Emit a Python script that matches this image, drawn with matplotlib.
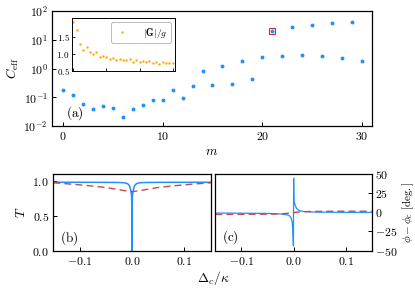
import numpy as np
import matplotlib
matplotlib.use("Agg")
import matplotlib.pyplot as plt
from matplotlib.ticker import FuncFormatter, FixedLocator

plt.rcParams['mathtext.fontset'] = 'cm'
plt.rcParams['font.family'] = ['DejaVu Serif']

# ---------------- data ----------------
m_vals = list(range(31))
c_eff = [0.18, 0.12, 0.06, 0.04, 0.05, 0.042, 0.021, 0.039, 0.054, 0.078,
         0.078, 0.18, 0.097, 0.24, 0.82, 0.26, 1.22, 0.30, 1.86, 0.42,
         2.45, 20.7, 2.8, 28.5, 2.85, 34.0, 2.7, 39.0, 2.3, 41.0, 1.86]
highlight_m = [21]
highlight_c = [20.7]

g_ratio = [1.94, 1.71, 1.29, 1.12, 1.21, 1.05, 0.99, 1.04, 0.91, 0.95,
           0.91, 0.85, 0.89, 0.81, 0.86, 0.83, 0.81, 0.84, 0.76, 0.81,
           0.76, 0.78, 0.76, 0.78, 0.73, 0.77, 0.71, 0.76, 0.73, 0.74, 0.74]

# panel (b): transmission
det_b_blue = [-0.15, -0.1, -0.05, -0.025, -0.015, -0.01, -0.007, -0.005, -0.004,
              -0.003, -0.0022, -0.0015, -0.0008, -0.0003, 0.0, 0.0003, 0.0008,
              0.0015, 0.0022, 0.003, 0.004, 0.005, 0.007, 0.01, 0.015, 0.025,
              0.05, 0.1, 0.15]
T_blue = [0.985, 0.985, 0.984, 0.982, 0.978, 0.97, 0.955, 0.935, 0.915,
          0.89, 0.86, 0.83, 0.79, 0.6, 0.0, 0.6, 0.79,
          0.83, 0.86, 0.89, 0.915, 0.935, 0.955, 0.97, 0.978, 0.982,
          0.984, 0.985, 0.985]
det_b_red = [-0.15, -0.11, -0.074, -0.05, -0.023, -0.01, 0.0,
             0.01, 0.023, 0.05, 0.074, 0.11, 0.15]
T_red = [0.978, 0.955, 0.93, 0.91, 0.875, 0.86, 0.848,
         0.86, 0.875, 0.91, 0.93, 0.955, 0.978]

# panel (c): phase
det_c_blue = [-0.15, -0.1, -0.05, -0.025, -0.015, -0.01, -0.007, -0.005, -0.0035,
              -0.0025, -0.0015, -0.0008, -0.0002, 0.0002, 0.0006, 0.001, 0.0016,
              0.0025, 0.004, 0.006, 0.009, 0.013, 0.02, 0.035, 0.06, 0.1, 0.15]
phi_blue = [-0.8, -1.0, -1.3, -2.0, -2.8, -3.6, -5.0, -7.0, -10.0,
            -14.0, -22.0, -33.0, -44.0, 45.0, 20.0, 14.0, 13.0,
            11.0, 8.0, 5.0, 3.2, 2.0, 1.2, 0.6, 0.3, 0.1, 0.0]
det_c_red = [-0.15, -0.1, -0.06, -0.04, -0.025, -0.015, -0.008, 0.0,
             0.008, 0.015, 0.025, 0.04, 0.06, 0.1, 0.15]
phi_red = [-2.6, -2.5, -2.3, -2.1, -1.8, -1.4, -0.8, -0.2,
           0.4, 0.8, 1.1, 1.3, 1.5, 1.6, 1.6]

BLUE = '#1e90ff'
RED = '#c84848'
ORANGE = '#ffa500'

def mfmt(v, p):
    s = f'{v:g}' if abs(v) >= 1e-12 else '0'
    return f'${s}$'

def mfmt1(v, p):
    return f'${v:.1f}$'

def logfmt(v, p):
    return f'$10^{{{int(round(np.log10(v)))}}}$'

fig = plt.figure(figsize=(4.15, 2.91), dpi=100)

def style(ax, fs=8.5):
    ax.tick_params(direction='in', labelsize=fs, length=3, width=0.7, pad=3)
    for s in ax.spines.values():
        s.set_linewidth(0.9)

# ---------------- top panel ----------------
ax = fig.add_axes([0.1253, 0.567, 0.771, 0.395])
ax.plot(m_vals, c_eff, 'o', color=BLUE, ms=2.8, mec='none')
ax.plot(highlight_m, highlight_c, 's', mfc='none', mec='#c03030', ms=5, mew=0.8)
ax.set_yscale('log')
ax.set_ylim(1e-2, 1e2)
ax.set_xlim(-1.1, 31)
ax.yaxis.set_major_locator(FixedLocator([1e-2, 1e-1, 1e0, 1e1, 1e2]))
ax.yaxis.set_minor_locator(FixedLocator([]))
ax.yaxis.set_major_formatter(FuncFormatter(logfmt))
ax.set_xticks([0, 10, 20, 30])
ax.xaxis.set_major_formatter(FuncFormatter(mfmt))
style(ax)
ax.set_xlabel('$m$', fontsize=9.5, labelpad=1)
ax.set_ylabel(r'$C_{\rm eff}$', fontsize=9.5, labelpad=2)
ax.text(0.3, 10 ** -1.55, r'$(\mathrm{a})$', fontsize=9.5, va='center')

# inset
axi = fig.add_axes([0.1742, 0.757, 0.2475, 0.180])
axi.plot(m_vals, g_ratio, 'o', color=ORANGE, ms=1.7, mec='none', label=r'$|\mathbf{G}|/g$')
axi.set_xlim(-0.3, 30.7)
axi.set_ylim(0.5, 2.05)
axi.set_xticks([0, 10, 20, 30])
axi.set_xticklabels([])
axi.set_yticks([0.5, 1.0, 1.5])
axi.yaxis.set_major_formatter(FuncFormatter(mfmt1))
axi.tick_params(direction='in', labelsize=6.5, length=2, width=0.6, pad=2)
for s in axi.spines.values():
    s.set_linewidth(0.7)
leg = axi.legend(loc='upper right', fontsize=7, handletextpad=1.35, borderpad=0.35,
                 handlelength=1.6, fancybox=True, framealpha=1, edgecolor='#bbbbbb',
                 borderaxespad=0.4)
leg.get_frame().set_linewidth(0.7)

# ---------------- panel (b) ----------------
axb = fig.add_axes([0.1284, 0.139, 0.3793, 0.262])
axb.plot(det_b_blue, T_blue, '-', color=BLUE, lw=1.1)
axb.plot(det_b_red, T_red, '--', color=RED, lw=1.0, dashes=(5, 3))
axb.set_xlim(-0.15, 0.15)
axb.set_ylim(0, 1.1)
axb.set_xticks([-0.1, 0.0, 0.1])
axb.set_yticks([0.0, 0.5, 1.0])
axb.xaxis.set_major_formatter(FuncFormatter(mfmt1))
axb.yaxis.set_major_formatter(FuncFormatter(mfmt1))
style(axb)
axb.set_ylabel('$T$', fontsize=9.5, labelpad=3)
axb.text(-0.138, 0.185, r'$(\mathrm{b})$', fontsize=9.5, va='center')

# ---------------- panel (c) ----------------
axc = fig.add_axes([0.5188, 0.139, 0.3783, 0.262])
axc.plot(det_c_blue, phi_blue, '-', color=BLUE, lw=0.9)
axc.plot(det_c_red, phi_red, '--', color=RED, lw=1.0, dashes=(5, 3))
axc.set_xlim(-0.15, 0.151)
axc.set_ylim(-50, 50)
axc.set_xticks([-0.1, 0.0, 0.1])
axc.set_yticks([-50, -25, 0, 25, 50])
axc.xaxis.set_major_formatter(FuncFormatter(mfmt1))
axc.yaxis.set_major_formatter(FuncFormatter(mfmt))
axc.yaxis.tick_right()
axc.yaxis.set_label_position('right')
style(axc)
axc.tick_params(axis='y', pad=2)
axc.set_ylabel(r'$\phi - \phi_c\ [\mathrm{deg.}]$', fontsize=8, labelpad=2)
axc.text(-0.138, -33, r'$(\mathrm{c})$', fontsize=9.5, va='center')

fig.text(0.513, 0.045, r'$\Delta_c/\kappa$', fontsize=9.5, ha='center', va='center')

fig.savefig('out.png', dpi=100)
